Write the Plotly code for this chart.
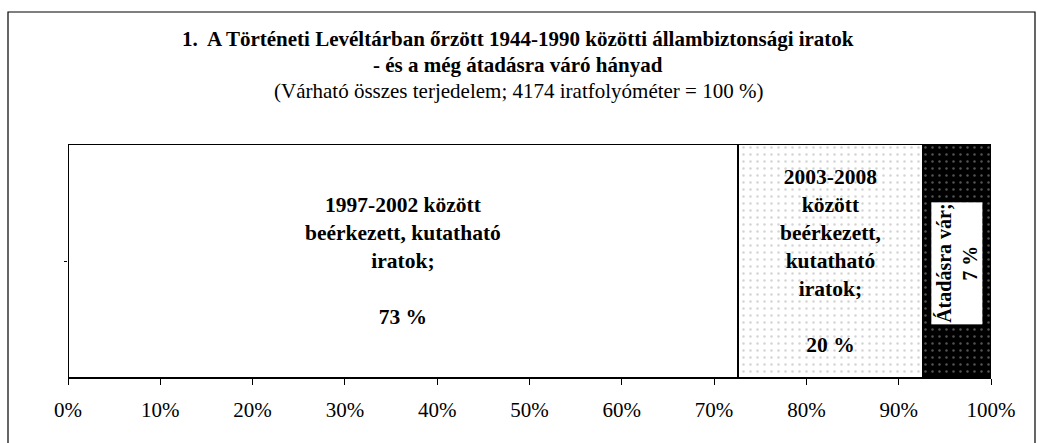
import plotly.graph_objects as go

# adatok
segments = ["1997-2002 között beérkezett", "2003-2008 között beérkezett", "Átadásra vár"]
shares = [72.6, 20.0, 7.4]
labels = [
    "1997-2002 között<br>beérkezett, kutatható<br>iratok;<br> <br>73 %",
    "2003-2008<br>között<br>beérkezett,<br>kutatható<br>iratok;<br> <br>20 %",
    "Átadásra vár;<br>7 %",
]
tick_vals = [0, 10, 20, 30, 40, 50, 60, 70, 80, 90, 100]
tick_text = ["0%", "10%", "20%", "30%", "40%", "50%", "60%", "70%", "80%", "90%", "100%"]

serif = "Liberation Serif, Times New Roman, serif"

# elhelyezés (pixelben)
W, H = 1037, 443
L, R, T, B = 68, 46, 144, 65
PW, PH = W - L - R, H - T - B


def px(x):
    return (x - L) / PW


def py(y):
    return (H - B - y) / PH


patterns = [
    dict(shape="", bgcolor="white"),
    dict(shape=".", bgcolor="white", fgcolor="#a8a8a8", size=7, solidity=0.1),
    dict(shape=".", bgcolor="black", fgcolor="#a8a8a8", size=7, solidity=0.1),
]
fills = ["white", "white", "black"]

fig = go.Figure()
for name, val, fill, pat in zip(segments, shares, fills, patterns):
    fig.add_trace(go.Bar(
        x=[val], y=[0], orientation="h", name=name,
        marker=dict(color=fill, pattern=pat, line=dict(color="black", width=2)),
        width=1, showlegend=False, hoverinfo="skip",
    ))

# feliratok a szegmensek közepén
starts = [sum(shares[:i]) for i in range(len(shares))]
mids = [s + v / 2 for s, v in zip(starts, shares)]
for i in range(2):
    fig.add_annotation(x=mids[i], y=0, text="<b>" + labels[i] + "</b>", showarrow=False,
                       font=dict(family=serif, size=21.5, color="black"))
fig.add_annotation(x=mids[2], y=0, text="<b>" + labels[2] + "</b>", showarrow=False,
                   textangle=-90, bgcolor="white", borderpad=1,
                   font=dict(family=serif, size=20, color="black"), yshift=-2)

# cím
title_lines = [
    ("<b>1.  A Történeti Levéltárban őrzött 1944-1990 közötti állambiztonsági iratok</b>", 39),
    ("<b>- és a még átadásra váró hányad</b>", 65),
    ("(Várható összes terjedelem; 4174 iratfolyóméter = 100 %)", 91),
]
for txt, ypix in title_lines:
    fig.add_annotation(xref="paper", yref="paper", x=px(518), y=py(ypix),
                       yanchor="middle", text=txt, showarrow=False,
                       font=dict(family=serif, size=21, color="black"))

# keret a diagram körül
fig.add_shape(type="rect", xref="paper", yref="paper",
              x0=px(8), x1=px(1035), y0=py(460), y1=py(12),
              line=dict(color="black", width=1.2), layer="below")

fig.update_layout(
    width=W, height=H,
    margin=dict(l=L, r=R, t=T, b=B, autoexpand=False),
    barmode="stack", bargap=0,
    paper_bgcolor="white", plot_bgcolor="white",
    font=dict(family=serif, size=21, color="black"),
)
fig.update_xaxes(range=[0, 100], tickvals=tick_vals, ticktext=tick_text,
                 ticks="outside", ticklen=6, tickcolor="black", tickwidth=1,
                 showline=True, linecolor="black", linewidth=1, showgrid=False,
                 zeroline=False, tickfont=dict(family=serif, size=21), automargin=False,
                 ticklabelstandoff=7)
fig.update_yaxes(range=[-0.5, 0.5], tickvals=[0], showticklabels=False, ticks="outside",
                 ticklen=3, tickcolor="black", showgrid=False, zeroline=False,
                 showline=False, automargin=False)

fig.write_html("out.html", config={"displayModeBar": False},
               post_script="document.body.style.margin='0';")
